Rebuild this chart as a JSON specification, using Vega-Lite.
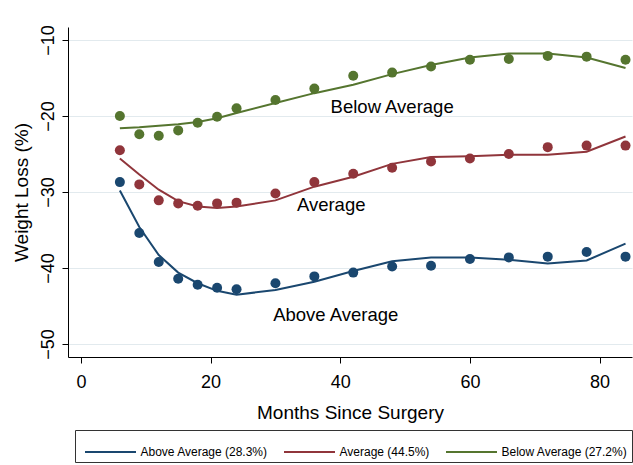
{
  "$schema": "https://vega.github.io/schema/vega-lite/v6.json",
  "width": 564,
  "height": 330,
  "autosize": {"type": "none"},
  "padding": {"left": 68, "top": 27, "right": 1, "bottom": 108},
  "background": "white",
  "config": {
    "font": "Liberation Sans",
    "view": {"stroke": null},
    "axis": {
      "domainColor": "#000000",
      "tickColor": "#000000",
      "labelColor": "#000000",
      "titleColor": "#000000",
      "titleFontWeight": "normal",
      "labelFont": "Liberation Sans",
      "titleFont": "Liberation Sans"
    },
    "legend": {
      "orient": "none", "legendX": 7, "legendY": 403,
      "direction": "horizontal",
      "strokeColor": "#333333", "padding": 4,
      "labelFontSize": 12, "labelFont": "Liberation Sans", "labelColor": "#000000",
      "symbolType": "M-1.5,0H1.5", "symbolSize": 1156, "symbolStrokeWidth": 2,
      "symbolOffset": 13.5,
      "labelOffset": 12, "columnPadding": 10, "labelLimit": 300
    }
  },
  "datasets": {
    "series": [
      {"g": "Above Average (28.3%)", "m": 6, "obs": -28.7, "fit": -29.8},
      {"g": "Above Average (28.3%)", "m": 9, "obs": -35.4, "fit": -34.6},
      {"g": "Above Average (28.3%)", "m": 12, "obs": -39.2, "fit": -38.3},
      {"g": "Above Average (28.3%)", "m": 15, "obs": -41.4, "fit": -40.6},
      {"g": "Above Average (28.3%)", "m": 18, "obs": -42.2, "fit": -42.0},
      {"g": "Above Average (28.3%)", "m": 21, "obs": -42.6, "fit": -43.0},
      {"g": "Above Average (28.3%)", "m": 24, "obs": -42.8, "fit": -43.5},
      {"g": "Above Average (28.3%)", "m": 30, "obs": -42.0, "fit": -42.9},
      {"g": "Above Average (28.3%)", "m": 36, "obs": -41.1, "fit": -41.8},
      {"g": "Above Average (28.3%)", "m": 42, "obs": -40.6, "fit": -40.4},
      {"g": "Above Average (28.3%)", "m": 48, "obs": -39.8, "fit": -39.1},
      {"g": "Above Average (28.3%)", "m": 54, "obs": -39.7, "fit": -38.6},
      {"g": "Above Average (28.3%)", "m": 60, "obs": -38.8, "fit": -38.6},
      {"g": "Above Average (28.3%)", "m": 66, "obs": -38.6, "fit": -38.9},
      {"g": "Above Average (28.3%)", "m": 72, "obs": -38.5, "fit": -39.4},
      {"g": "Above Average (28.3%)", "m": 78, "obs": -37.9, "fit": -39.0},
      {"g": "Above Average (28.3%)", "m": 84, "obs": -38.5, "fit": -36.8},
      {"g": "Average (44.5%)", "m": 6, "obs": -24.5, "fit": -25.6},
      {"g": "Average (44.5%)", "m": 9, "obs": -29.0, "fit": -27.7},
      {"g": "Average (44.5%)", "m": 12, "obs": -31.1, "fit": -29.7},
      {"g": "Average (44.5%)", "m": 15, "obs": -31.5, "fit": -31.2},
      {"g": "Average (44.5%)", "m": 18, "obs": -31.8, "fit": -31.9},
      {"g": "Average (44.5%)", "m": 21, "obs": -31.5, "fit": -32.1},
      {"g": "Average (44.5%)", "m": 24, "obs": -31.4, "fit": -31.9},
      {"g": "Average (44.5%)", "m": 30, "obs": -30.2, "fit": -31.1},
      {"g": "Average (44.5%)", "m": 36, "obs": -28.7, "fit": -29.3},
      {"g": "Average (44.5%)", "m": 42, "obs": -27.6, "fit": -28.0},
      {"g": "Average (44.5%)", "m": 48, "obs": -26.8, "fit": -26.3},
      {"g": "Average (44.5%)", "m": 54, "obs": -26.0, "fit": -25.4},
      {"g": "Average (44.5%)", "m": 60, "obs": -25.6, "fit": -25.3},
      {"g": "Average (44.5%)", "m": 66, "obs": -25.0, "fit": -25.1},
      {"g": "Average (44.5%)", "m": 72, "obs": -24.1, "fit": -25.1},
      {"g": "Average (44.5%)", "m": 78, "obs": -23.9, "fit": -24.7},
      {"g": "Average (44.5%)", "m": 84, "obs": -23.9, "fit": -22.7},
      {"g": "Below Average (27.2%)", "m": 6, "obs": -20.0, "fit": -21.6},
      {"g": "Below Average (27.2%)", "m": 9, "obs": -22.4, "fit": -21.5},
      {"g": "Below Average (27.2%)", "m": 12, "obs": -22.6, "fit": -21.3},
      {"g": "Below Average (27.2%)", "m": 15, "obs": -21.9, "fit": -21.1},
      {"g": "Below Average (27.2%)", "m": 18, "obs": -20.9, "fit": -20.8},
      {"g": "Below Average (27.2%)", "m": 21, "obs": -20.1, "fit": -20.3},
      {"g": "Below Average (27.2%)", "m": 24, "obs": -19.0, "fit": -19.6},
      {"g": "Below Average (27.2%)", "m": 30, "obs": -17.9, "fit": -18.3},
      {"g": "Below Average (27.2%)", "m": 36, "obs": -16.4, "fit": -17.0},
      {"g": "Below Average (27.2%)", "m": 42, "obs": -14.7, "fit": -15.9},
      {"g": "Below Average (27.2%)", "m": 48, "obs": -14.3, "fit": -14.5},
      {"g": "Below Average (27.2%)", "m": 54, "obs": -13.5, "fit": -13.3},
      {"g": "Below Average (27.2%)", "m": 60, "obs": -12.6, "fit": -12.3},
      {"g": "Below Average (27.2%)", "m": 66, "obs": -12.5, "fit": -11.8},
      {"g": "Below Average (27.2%)", "m": 72, "obs": -12.1, "fit": -11.8},
      {"g": "Below Average (27.2%)", "m": 78, "obs": -12.2, "fit": -12.3},
      {"g": "Below Average (27.2%)", "m": 84, "obs": -12.6, "fit": -13.7}
    ],
    "labels": [
      {"label": "Below Average", "m": 48.0, "v": -18.8},
      {"label": "Average", "m": 38.6, "v": -31.7},
      {"label": "Above Average", "m": 39.3, "v": -46.2}
    ]
  },
  "layer": [
    {
      "data": {"name": "series"},
      "mark": {"type": "point", "filled": true, "size": 100, "opacity": 1},
      "encoding": {
        "x": {
          "field": "m", "type": "quantitative",
          "scale": {"domain": [-2, 85], "nice": false, "zero": false},
          "axis": {
            "values": [0, 20, 40, 60, 80], "grid": false, "tickSize": 6,
            "labelFontSize": 18, "labelPadding": 10,
            "title": "Months Since Surgery", "titleFontSize": 19, "titlePadding": 12
          }
        },
        "y": {
          "field": "obs", "type": "quantitative",
          "scale": {"domain": [-51.7, -8.3], "nice": false, "zero": false},
          "axis": {
            "values": [-50, -40, -30, -20, -10], "grid": true,
            "gridColor": "#e2eaee", "gridWidth": 1.2, "tickSize": 6,
            "labelFontSize": 18, "labelAngle": -90, "labelPadding": 5,
            "title": "Weight Loss (%)", "titleFontSize": 19, "titlePadding": 8
          }
        },
        "color": {
          "field": "g", "type": "nominal",
          "scale": {
            "domain": ["Above Average (28.3%)", "Average (44.5%)", "Below Average (27.2%)"],
            "range": ["#1a476f", "#90353b", "#55752f"]
          },
          "legend": {"title": null}
        }
      }
    },
    {
      "data": {"name": "series"},
      "mark": {"type": "line", "strokeWidth": 2, "interpolate": "linear"},
      "encoding": {
        "x": {"field": "m", "type": "quantitative"},
        "y": {"field": "fit", "type": "quantitative"},
        "color": {"field": "g", "type": "nominal", "legend": {"title": null}}
      }
    },
    {
      "data": {"name": "labels"},
      "mark": {"type": "text", "fontSize": 18.5, "align": "center", "baseline": "middle", "color": "#000000"},
      "encoding": {
        "x": {"field": "m", "type": "quantitative"},
        "y": {"field": "v", "type": "quantitative"},
        "text": {"field": "label"}
      }
    }
  ]
}
